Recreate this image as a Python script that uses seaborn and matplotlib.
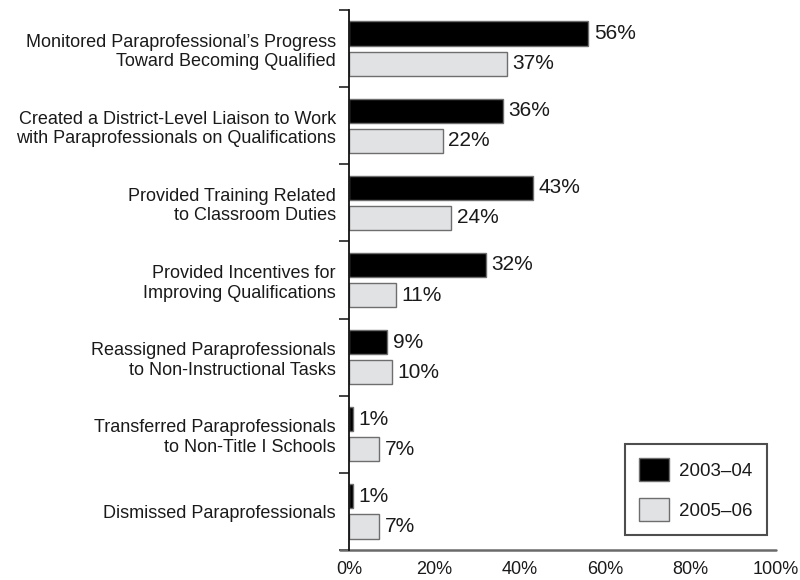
import matplotlib
matplotlib.use("Agg")
import matplotlib.pyplot as plt
from matplotlib.lines import Line2D
from matplotlib.ticker import FixedLocator
import seaborn as sns
import pandas as pd

practices = [
    "Monitored Paraprofessional\u2019s Progress\nToward Becoming Qualified",
    "Created a District-Level Liaison to Work\nwith Paraprofessionals on Qualifications",
    "Provided Training Related\nto Classroom Duties",
    "Provided Incentives for\nImproving Qualifications",
    "Reassigned Paraprofessionals\nto Non-Instructional Tasks",
    "Transferred Paraprofessionals\nto Non-Title I Schools",
    "Dismissed Paraprofessionals",
]
years = ["2003\u201304", "2005\u201306"]
pct_2003_04 = [56, 36, 43, 32, 9, 1, 1]
pct_2005_06 = [37, 22, 24, 11, 10, 7, 7]
x_ticks = [0, 20, 40, 60, 80, 100]

df = pd.DataFrame({
    "practice": practices * 2,
    "year": [years[0]] * len(practices) + [years[1]] * len(practices),
    "pct": pct_2003_04 + pct_2005_06,
})

sns.set_style("white")
plt.rcParams["font.family"] = ["Liberation Sans", "DejaVu Sans"]

fig = plt.figure(figsize=(8, 5.8), dpi=100)
ax = fig.add_axes([349 / 800, 1 - 550 / 580, 427 / 800, 540 / 580])

sns.barplot(
    data=df, x="pct", y="practice", hue="year", order=practices,
    hue_order=years, palette=["#000000", "#e1e2e4"], orient="h",
    width=0.78, gap=0.2, edgecolor="#6e6e6e", linewidth=1.0, ax=ax,
)

for container in ax.containers:
    ax.bar_label(container, fmt="%d%%", padding=4, fontsize=15, color="#1a1a1a")

ax.set_xlim(0, 100)
ax.set_ylim(len(practices) - 0.5, -0.5)
ax.set_xticks(x_ticks)
ax.set_xticklabels([f"{t}%" for t in x_ticks], fontsize=13, color="#1a1a1a")
ax.tick_params(axis="x", length=0, pad=8)
ax.tick_params(axis="y", which="major", length=0, pad=9.5, labelsize=13,
               labelcolor="#1a1a1a")
ax.yaxis.set_minor_locator(FixedLocator([i - 0.5 for i in range(len(practices) + 1)]))
ax.tick_params(axis="y", which="minor", left=True, length=7, width=1.2,
               color="#222222", direction="out")
for lbl in ax.get_yticklabels():
    lbl.set_multialignment("right")
ax.set_xlabel("")
ax.set_ylabel("")

for side in ["top", "right", "bottom"]:
    ax.spines[side].set_visible(False)
ax.spines["left"].set_color("#111111")
ax.spines["left"].set_linewidth(1.3)
ax.add_line(Line2D([-0.021, 1.0], [0, 0], transform=ax.transAxes,
                   color="#6a6a6a", linewidth=1.8, clip_on=False))

leg = ax.legend(loc="lower right", bbox_to_anchor=(0.979, 0.028),
                borderaxespad=0, fontsize=13.5, frameon=True, fancybox=False,
                handlelength=1.6, handleheight=1.5, labelspacing=0.9,
                handletextpad=0.55, borderpad=0.75, title=None)
leg.get_frame().set_edgecolor("#222222")
leg.get_frame().set_linewidth(1.5)
for t in leg.get_texts():
    t.set_color("#1a1a1a")

fig.savefig("out.png", dpi=100)
